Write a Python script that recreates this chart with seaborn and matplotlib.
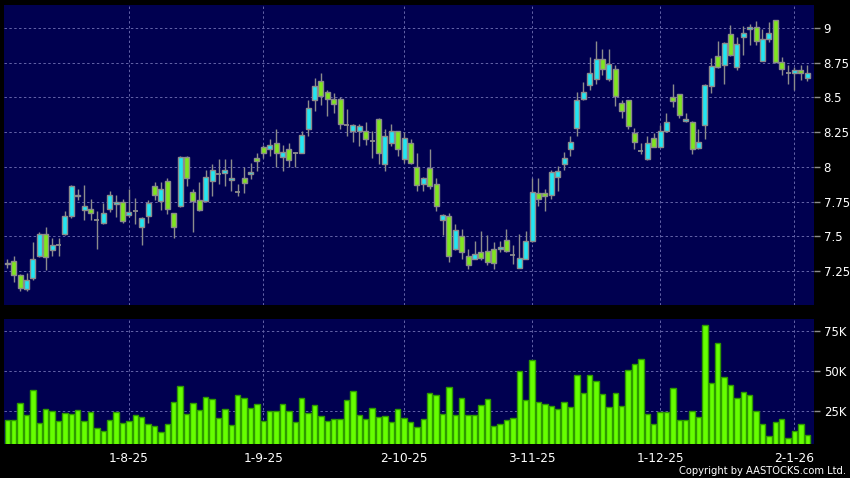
import matplotlib
matplotlib.use("Agg")
import matplotlib.pyplot as plt
import seaborn as sns
import numpy as np
import pandas as pd

# ---- data ----
opens = [7.31, 7.32, 7.22, 7.12, 7.20, 7.36, 7.52, 7.40, 7.44, 7.52,
         7.65, 7.80, 7.69, 7.70, 7.62, 7.60, 7.70, 7.73, 7.75, 7.655,
         7.68, 7.57, 7.65, 7.86, 7.755, 7.90, 7.67, 7.72, 8.07, 7.82,
         7.76, 7.755, 7.90, 7.95, 7.953, 7.903, 7.82, 7.917, 7.95, 8.067,
         8.146, 8.131, 8.174, 8.074, 8.131, 8.10, 8.103, 8.274, 8.484, 8.621,
         8.536, 8.488, 8.488, 8.305, 8.26, 8.26, 8.26, 8.184, 8.346, 8.019,
         8.174, 8.257, 8.055, 8.174, 8.003, 7.874, 7.996, 7.874, 7.619, 7.65,
         7.412, 7.50, 7.36, 7.341, 7.389, 7.394, 7.407, 7.41, 7.471, 7.37,
         7.274, 7.341, 7.469, 7.812, 7.812, 7.798, 7.931, 8.019, 8.126, 8.281,
         8.488, 8.591, 8.631, 8.779, 8.631, 8.703, 8.46, 8.479, 8.246, 8.117,
         8.055, 8.21, 8.146, 8.257, 8.50, 8.524, 8.329, 8.324, 8.134, 8.305,
         8.579, 8.80, 8.734, 8.953, 8.719, 8.938, 8.991, 9.01, 8.762, 8.919,
         9.057, 8.757, 8.674, 8.674, 8.698, 8.638]
closes = [7.30, 7.22, 7.13, 7.19, 7.34, 7.52, 7.35, 7.44, 7.44, 7.65,
          7.86, 7.79, 7.72, 7.67, 7.62, 7.67, 7.80, 7.75, 7.61, 7.675,
          7.68, 7.63, 7.74, 7.80, 7.845, 7.70, 7.57, 8.07, 7.92, 7.755,
          7.69, 7.93, 7.98, 7.95, 7.979, 7.917, 7.82, 7.881, 7.967, 8.043,
          8.10, 8.155, 8.098, 8.11, 8.048, 8.10, 8.231, 8.424, 8.579, 8.512,
          8.488, 8.455, 8.312, 8.305, 8.30, 8.298, 8.198, 8.184, 8.103, 8.221,
          8.257, 8.131, 8.207, 8.031, 7.869, 7.924, 7.864, 7.721, 7.655, 7.36,
          7.55, 7.39, 7.298, 7.374, 7.346, 7.317, 7.307, 7.426, 7.398, 7.37,
          7.346, 7.464, 7.817, 7.769, 7.793, 7.964, 7.971, 8.067, 8.179, 8.479,
          8.536, 8.679, 8.779, 8.703, 8.738, 8.512, 8.403, 8.293, 8.179, 8.117,
          8.169, 8.146, 8.257, 8.321, 8.474, 8.376, 8.348, 8.126, 8.181, 8.586,
          8.729, 8.719, 8.889, 8.805, 8.881, 8.967, 9.01, 8.905, 8.919, 8.96,
          8.757, 8.705, 8.674, 8.698, 8.674, 8.679]
highs = [7.34, 7.36, 7.23, 7.24, 7.46, 7.53, 7.57, 7.49, 7.49, 7.68,
         7.87, 7.84, 7.87, 7.77, 7.68, 7.74, 7.83, 7.80, 7.77, 7.84,
         7.78, 7.64, 7.76, 7.89, 7.89, 7.92, 7.67, 8.08, 8.08, 7.84,
         7.89, 7.98, 8.02, 8.06, 8.06, 8.06, 7.88, 8.00, 8.03, 8.10,
         8.16, 8.20, 8.27, 8.16, 8.17, 8.11, 8.26, 8.48, 8.64, 8.674,
         8.555, 8.53, 8.50, 8.42, 8.31, 8.31, 8.32, 8.26, 8.35, 8.27,
         8.31, 8.26, 8.25, 8.20, 8.10, 7.93, 8.13, 7.92, 7.66, 7.67,
         7.59, 7.555, 7.41, 7.47, 7.54, 7.51, 7.46, 7.465, 7.555, 7.44,
         7.52, 7.54, 7.92, 7.92, 7.845, 7.98, 8.007, 8.11, 8.226, 8.54,
         8.61, 8.79, 8.905, 8.85, 8.85, 8.733, 8.483, 8.483, 8.281, 8.174,
         8.22, 8.246, 8.305, 8.388, 8.60, 8.525, 8.39, 8.33, 8.27, 8.60,
         8.786, 8.905, 8.90, 9.02, 8.936, 9.014, 9.03, 9.05, 8.99, 9.04,
         9.057, 8.79, 8.73, 8.72, 8.733, 8.73]
lows = [7.27, 7.17, 7.11, 7.11, 7.19, 7.35, 7.26, 7.36, 7.36, 7.51,
        7.63, 7.76, 7.615, 7.62, 7.41, 7.59, 7.674, 7.64, 7.60, 7.64,
        7.59, 7.44, 7.60, 7.76, 7.69, 7.66, 7.49, 7.71, 7.864, 7.53,
        7.68, 7.745, 7.79, 7.876, 7.864, 7.83, 7.79, 7.81, 7.91, 7.97,
        8.067, 8.08, 8.003, 7.97, 8.003, 8.003, 8.10, 8.22, 8.40, 8.448,
        8.364, 8.39, 8.27, 8.22, 8.18, 8.15, 8.16, 8.067, 8.02, 7.97,
        8.15, 8.08, 8.03, 8.02, 7.83, 7.83, 7.84, 7.686, 7.51, 7.317,
        7.40, 7.34, 7.264, 7.335, 7.33, 7.293, 7.264, 7.39, 7.39, 7.305,
        7.27, 7.34, 7.46, 7.72, 7.686, 7.77, 7.83, 7.98, 8.08, 8.226,
        8.48, 8.555, 8.60, 8.66, 8.62, 8.436, 8.353, 8.27, 8.126, 8.09,
        8.05, 8.14, 8.14, 8.25, 8.43, 8.35, 8.324, 8.096, 8.13, 8.20,
        8.53, 8.71, 8.60, 8.80, 8.70, 8.805, 8.88, 8.88, 8.76, 8.90,
        8.75, 8.66, 8.60, 8.555, 8.626, 8.62]
volumes_k = [19.6, 19.8, 30.0, 22.5, 38.7, 17.7, 26.5, 25.4, 19.0, 24.2,
             23.7, 25.8, 19.2, 24.8, 14.8, 12.7, 19.8, 24.8, 17.9, 19.0,
             22.7, 21.7, 16.9, 16.2, 12.3, 17.3, 30.8, 40.8, 23.7, 30.2,
             25.8, 34.0, 32.7, 21.0, 26.5, 16.7, 35.0, 33.3, 27.1, 29.8,
             19.2, 25.4, 25.4, 29.8, 25.4, 18.7, 33.3, 24.0, 29.0, 21.9,
             19.0, 20.2, 20.2, 32.3, 37.7, 22.7, 20.6, 27.1, 21.7, 22.1,
             18.3, 26.7, 20.8, 18.3, 15.4, 20.6, 36.7, 35.0, 23.3, 40.0,
             22.5, 33.5, 22.5, 22.5, 29.2, 32.5, 16.2, 17.1, 19.4, 21.0,
             50.0, 32.1, 57.1, 30.8, 29.6, 28.5, 26.7, 30.6, 27.5, 47.7,
             36.5, 47.5, 43.7, 36.2, 27.9, 36.5, 28.3, 51.0, 54.4, 57.7,
             23.1, 17.1, 24.6, 24.4, 39.8, 19.4, 19.4, 25.4, 21.5, 79.0,
             42.5, 67.5, 46.2, 41.2, 33.5, 36.9, 35.2, 25.4, 16.9, 9.6,
             18.7, 20.2, 8.5, 13.1, 17.3, 10.0]
tick_labels = ["1-8-25", "1-9-25", "2-10-25", "3-11-25", "1-12-25", "2-1-26"]
tick_index = [19, 40, 62, 82, 102, 123]
price_ticks = [7.25, 7.5, 7.75, 8, 8.25, 8.5, 8.75, 9]
price_tick_labels = ["7.25", "7.5", "7.75", "8", "8.25", "8.5", "8.75", "9"]
vol_ticks_k = [25, 50, 75]
vol_tick_labels = ["25K", "50K", "75K"]

# ---- styling ----
BG = "#000050"
UP = "#22E6F2"
DOWN = "#7FE61E"
EDGE = "#8C8C8C"
VOL = "#66FF00"
VOL_EDGE = "#2E9A00"
GRID = "#6464A8"
TXT = "#FFFFFF"

sns.set_theme(style="dark")
plt.rcParams["font.family"] = ["DejaVu Sans"]

df = pd.DataFrame({"i": np.arange(len(opens)), "open": opens, "high": highs,
                   "low": lows, "close": closes, "vol": np.array(volumes_k) * 1000})

fig = plt.figure(figsize=(8.5, 4.78), dpi=100, facecolor="black")
ax = fig.add_axes([4 / 850, 1 - 305 / 478, 810 / 850, 300 / 478])
ax2 = fig.add_axes([4 / 850, 1 - 443.5 / 478, 810 / 850, 124.5 / 478])

for a in (ax, ax2):
    a.set_facecolor(BG)
    for s in a.spines.values():
        s.set_visible(False)

# candles
x = df["i"].values
o = df["open"].values
c = df["close"].values
ax.vlines(x, df["low"], df["high"], color=EDGE, linewidth=1, zorder=2)
up = c > o
dn = c < o
dj = c == o
bw = 0.78
ax.bar(x[up], (c - o)[up], bottom=o[up], width=bw, color=UP, edgecolor=EDGE,
       linewidth=1, zorder=3)
ax.bar(x[dn], (o - c)[dn], bottom=c[dn], width=bw, color=DOWN, edgecolor=EDGE,
       linewidth=1, zorder=3)
ax.hlines(c[dj], x[dj] - bw / 2, x[dj] + bw / 2, color=EDGE, linewidth=1.3, zorder=3)

ax.set_xlim(-0.52, 126.05)
ax.set_ylim(7.007, 9.165)
ax.set_yticks(price_ticks)
ax.set_yticklabels(price_tick_labels)
ax.set_xticks(tick_index)
ax.set_xticklabels([])
ax.yaxis.tick_right()
ax.tick_params(axis="y", colors=EDGE, labelcolor=TXT, length=4, width=1,
               direction="out", pad=3, labelsize=8.5)
ax.tick_params(axis="x", length=0)
ax.grid(True, color=GRID, linestyle=(0, (2.5, 2.5)), linewidth=0.7, zorder=0)

# volume
sns.barplot(data=df, x="i", y="vol", native_scale=True, color=VOL,
            edgecolor=VOL_EDGE, linewidth=1, width=0.84, saturation=1,
            ax=ax2, zorder=3)
ax2.set_xlim(-0.52, 126.05)
ax2.set_ylim(5000, 82700)
ax2.set_yticks(np.array(vol_ticks_k) * 1000)
ax2.set_yticklabels(vol_tick_labels)
ax2.set_xticks(tick_index)
ax2.set_xticklabels(tick_labels)
ax2.set_xlabel("")
ax2.set_ylabel("")
ax2.yaxis.tick_right()
ax2.tick_params(axis="y", colors=EDGE, labelcolor=TXT, length=4, width=1,
                direction="out", pad=3, labelsize=8.5)
ax2.tick_params(axis="x", colors=EDGE, labelcolor=TXT, length=3, width=1,
                direction="out", pad=3, labelsize=8.7)
ax2.grid(True, color=GRID, linestyle=(0, (2.5, 2.5)), linewidth=0.7, zorder=0)
ax2.set_axisbelow(True)
ax.set_axisbelow(True)

fig.text(846 / 850, 1 - 471 / 478, "Copyright by AASTOCKS.com Ltd.", color=TXT,
         fontsize=7.2, ha="right", va="center")

fig.savefig("out.png", dpi=100, facecolor="black")
